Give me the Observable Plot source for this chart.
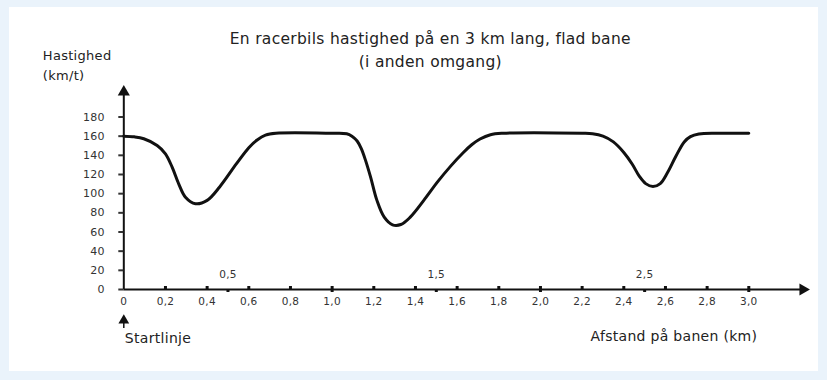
<!DOCTYPE html>
<html>
<head>
<meta charset="utf-8">
<script src="https://cdn.jsdelivr.net/npm/d3@7"></script>
<script src="https://cdn.jsdelivr.net/npm/@observablehq/plot@0.6"></script>
<style>
  html, body { margin: 0; padding: 0; background: #eaf3fb; }
  #wrap { position: relative; width: 827px; height: 380px; overflow: hidden; }
  #panel { position: absolute; left: 9px; top: 7px; width: 809px; height: 364px; background: #ffffff; }
  #chart { position: absolute; left: 0; top: 0; }
  svg { font-family: "DejaVu Sans", sans-serif; }
  svg text { letter-spacing: 0.3px; }
</style>
</head>
<body>
<div id="wrap"><div id="panel"></div><div id="chart"></div></div>
<script>
// Data
const distance = [0, 0.05, 0.096, 0.16, 0.2, 0.232, 0.264, 0.296, 0.344, 0.40, 0.46, 0.54, 0.60, 0.64, 0.68, 0.73, 1.0, 1.07, 1.095, 1.12, 1.14, 1.16, 1.185, 1.215, 1.25, 1.29, 1.33, 1.375, 1.44, 1.505, 1.57, 1.63, 1.67, 1.71, 1.76, 1.82, 2.2, 2.25, 2.3, 2.35, 2.40, 2.44, 2.475, 2.505, 2.54, 2.575, 2.61, 2.65, 2.69, 2.72, 2.76, 2.85, 3.0];
const speed = [160, 159.3, 157.3, 150.3, 141.6, 127.7, 110, 96.3, 89.5, 93, 107, 131, 148, 156, 161, 163, 163, 162.5, 160, 155, 147, 135, 117, 93, 75.5, 67.5, 67.8, 75.5, 93, 112, 129, 143, 151, 157, 161.5, 163, 163, 162.5, 160, 154, 143, 131, 118, 110.5, 107.5, 110.5, 122, 139, 154, 159.5, 162.3, 163, 163];

const yTicks = [0, 20, 40, 60, 80, 100, 120, 140, 160, 180];
const xTicks = [0, 0.2, 0.4, 0.6, 0.8, 1.0, 1.2, 1.4, 1.6, 1.8, 2.0, 2.2, 2.4, 2.6, 2.8, 3.0];
const xMinorTicks = [0.2, 0.4, 0.6, 0.8, 1.2, 1.4, 1.6, 1.8, 2.2, 2.4, 2.6, 2.8];
const xMajorTicks = [1.0, 2.0, 3.0];
const xHalfTicks = [0.5, 1.5, 2.5];
const xAxisEnd = 3.26;   // arrow head of the distance axis
const yAxisEnd = 206;    // arrow head of the speed axis

const title1 = "En racerbils hastighed på en 3 km lang, flad bane";
const title2 = "(i anden omgang)";
const yLabel = ["Hastighed", "(km/t)"];
const xLabel = "Afstand på banen (km)";
const startLabel = "Startlinje";

const data = distance.map((d, i) => ({distance: d, speed: speed[i]}));
const fmt = d => d === 0 ? "0" : d.toFixed(1).replace(".", ",");

const chart = Plot.plot({
  width: 827,
  height: 380,
  marginLeft: 123.3,
  marginRight: 78.7,
  marginTop: 116.5,
  marginBottom: 91,
  style: {background: "transparent", fontFamily: "'DejaVu Sans', sans-serif"},
  x: {domain: [0, 3]},
  y: {domain: [0, 180]},
  marks: [
    // axes lines
    Plot.ruleY([0], {x1: 0, x2: xAxisEnd, stroke: "#111", strokeWidth: 2}),
    Plot.ruleX([0], {y1: 0, y2: yAxisEnd, stroke: "#111", strokeWidth: 2}),
    Plot.dot([{x: xAxisEnd, y: 0}], {x: "x", y: "y", symbol: "triangle", r: 4.5, fill: "#111", stroke: "none", rotate: 90}),
    Plot.dot([{x: 0, y: yAxisEnd}], {x: "x", y: "y", symbol: "triangle", r: 4.5, fill: "#111", stroke: "none"}),
    // y axis ticks and labels
    Plot.axisY({ticks: yTicks, tickSize: 5, tickPadding: 14, fontSize: 11, strokeWidth: 2, color: "#333", label: null}),
    // x tick marks
    Plot.ruleX(xMinorTicks, {x: d => d, y1: 0, y2: 0, insetTop: -3, insetBottom: 0, stroke: "#111", strokeWidth: 3}),
    Plot.ruleX(xMajorTicks, {x: d => d, y1: 0, y2: 0, insetTop: -3, insetBottom: -3, stroke: "#111", strokeWidth: 3}),
    Plot.ruleX(xHalfTicks, {x: d => d, y1: 0, y2: 0, insetTop: 0, insetBottom: -3, stroke: "#111", strokeWidth: 3}),
    // x tick labels
    Plot.axisX({ticks: xTicks, tickSize: 0, tickPadding: 8, tickFormat: fmt, fontSize: 10.5, color: "#333", label: null}),
    Plot.text(xHalfTicks, {x: d => d, y: 0, dy: -15, text: fmt, fontSize: 10.5, fill: "#333"}),
    // speed curve
    Plot.line(data, {x: "distance", y: "speed", curve: "catmull-rom", stroke: "#111", strokeWidth: 3}),
    // start line marker
    Plot.ruleX([0], {x: d => d, y1: 0, y2: 0, insetTop: 29, insetBottom: -39, stroke: "#111", strokeWidth: 1.5}),
    Plot.dot([{x: 0, y: 0}], {x: "x", y: "y", dy: 31, symbol: "triangle", r: 4, fill: "#111", stroke: "none"}),
    Plot.text([startLabel], {x: 0, y: 0, dy: 49, dx: 1, text: d => d, textAnchor: "start", fontSize: 14, fill: "#222"}),
    Plot.text([xLabel], {x: 3, y: 0, dy: 47, dx: 8.5, text: d => d, textAnchor: "end", fontSize: 14, fill: "#222"}),
    // titles
    Plot.text([title1], {frameAnchor: "top", lineAnchor: "middle", dx: -6, dy: -77.5, text: d => d, fontSize: 15.5, fill: "#222"}),
    Plot.text([title2], {frameAnchor: "top", lineAnchor: "middle", dx: -6, dy: -54.5, text: d => d, fontSize: 15.5, fill: "#222"}),
    Plot.text([yLabel[0]], {frameAnchor: "top-left", lineAnchor: "middle", dx: -81, dy: -61.5, text: d => d, textAnchor: "start", fontSize: 13, fill: "#222"}),
    Plot.text([yLabel[1]], {frameAnchor: "top-left", lineAnchor: "middle", dx: -81, dy: -41.5, text: d => d, textAnchor: "start", fontSize: 13, fill: "#222"})
  ]
});
document.getElementById("chart").appendChild(chart);
</script>
</body>
</html>
